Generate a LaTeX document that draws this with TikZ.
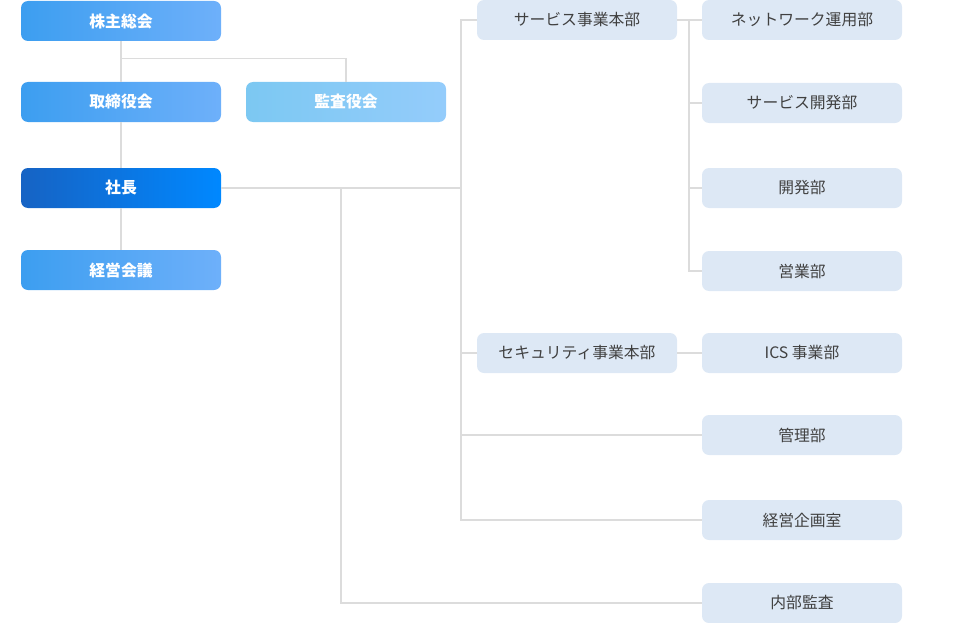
\documentclass[tikz,border=0pt]{standalone}
\usepackage{fontspec}
\setmainfont{Noto Sans CJK JP}
\definecolor{lineg}{HTML}{DCDCDC}
\definecolor{lightbox}{HTML}{DDE8F5}
\definecolor{txtg}{HTML}{404040}
\definecolor{bL}{HTML}{3C9EF0}
\definecolor{bR}{HTML}{6EB0FA}
\definecolor{dL}{HTML}{1663C4}
\definecolor{dR}{HTML}{0088FF}
\definecolor{kL}{HTML}{7CC8F2}
\definecolor{kR}{HTML}{94CCFB}
\tikzset{
  base/.style={rounded corners=7pt, minimum width=200pt, minimum height=40pt, inner sep=0pt, font=\fontsize{15.8}{18}\selectfont},
  blue/.style={base, left color=bL, right color=bR, text=white, font=\fontsize{15.8}{18}\selectfont\bfseries},
  dark/.style={base, left color=dL, right color=dR, text=white, font=\fontsize{15.8}{18}\selectfont\bfseries},
  pale/.style={base, left color=kL, right color=kR, text=white, font=\fontsize{15.8}{18}\selectfont\bfseries},
  light/.style={base, fill=lightbox, text=txtg},
  conn/.style={draw=lineg, line width=1.1pt}
}
\begin{document}
\begin{tikzpicture}[x=1pt,y=-1pt]
\useasboundingbox (0,0) rectangle (960,623);
\coordinate (j1) at (461,188);
\coordinate (j2) at (341,188);
\coordinate (j3) at (689,20);
\node[blue] (kabu) at (121,21) {株主総会};
\node[blue] (tori) at (121,102) {取締役会};
\node[pale] (kansa) at (346,102) {監査役会};
\node[dark] (shacho) at (121,188) {社長};
\node[blue] (keiei) at (121,270) {経営会議};
\node[light] (svc) at (577,20) {サービス事業本部};
\node[light] (sec) at (577,353) {セキュリティ事業本部};
\node[light] (net) at (802,20) {ネットワーク運用部};
\node[light] (sdev) at (802,103) {サービス開発部};
\node[light] (dev) at (802,188) {開発部};
\node[light] (eigyo) at (802,271) {営業部};
\node[light] (ics) at (802,353) {ICS 事業部};
\node[light] (kanri) at (802,435) {管理部};
\node[light] (kikaku) at (802,520) {経営企画室};
\node[light] (naibu) at (802,603) {内部監査};
\draw[conn] (kabu.south) -- (tori.north);
\draw[conn] (kabu.south) ++(0,17.5) -| (kansa.north);
\draw[conn] (tori.south) -- (shacho.north);
\draw[conn] (shacho.south) -- (keiei.north);
\draw[conn] (shacho.east) -- (j1);
\draw[conn] (j2) |- (naibu.west);
\draw[conn] (svc.west) -- (svc.west -| j1) -- (kikaku.west -| j1) -- (kikaku.west);
\draw[conn] (sec.west -| j1) -- (sec.west);
\draw[conn] (kanri.west -| j1) -- (kanri.west);
\draw[conn] (svc.east) -- (net.west);
\draw[conn] (j3) |- (eigyo.west);
\draw[conn] (sdev.west -| j3) -- (sdev.west);
\draw[conn] (dev.west -| j3) -- (dev.west);
\draw[conn] (sec.east) -- (ics.west);
\end{tikzpicture}
\end{document}
